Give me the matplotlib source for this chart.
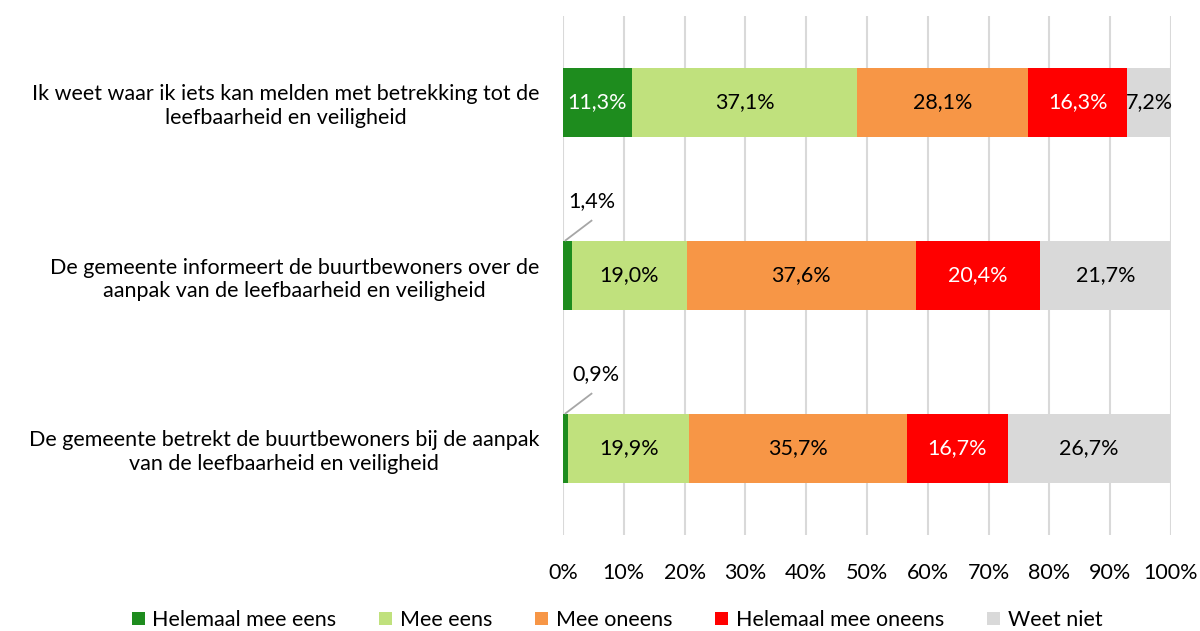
import numpy as np
import matplotlib.pyplot as plt

plt.rcParams['font.family'] = ['Lato', 'DejaVu Sans']

# data
statements = [
    "Ik weet waar ik iets kan melden met betrekking tot de\nleefbaarheid en veiligheid",
    "De gemeente informeert de buurtbewoners over de\naanpak van de leefbaarheid en veiligheid",
    "De gemeente betrekt de buurtbewoners bij de aanpak\nvan de leefbaarheid en veiligheid",
]
series = ["Helemaal mee eens", "Mee eens", "Mee oneens", "Helemaal mee oneens", "Weet niet"]
helemaal_eens = [11.3, 1.4, 0.9]
mee_eens = [37.1, 19.0, 19.9]
mee_oneens = [28.1, 37.6, 35.7]
helemaal_oneens = [16.3, 20.4, 16.7]
weet_niet = [7.2, 21.7, 26.7]

colors = ["#1E8C1E", "#C0E17D", "#F79646", "#FF0000", "#D9D9D9"]
text_colors = ["white", "black", "black", "white", "black"]

values = [helemaal_eens, mee_eens, mee_oneens, helemaal_oneens, weet_niet]
fs = 15.5

fig = plt.figure(figsize=(12, 6.31), dpi=100)
ax = fig.add_axes([563 / 1200, 1 - 535 / 631, 608 / 1200, 519 / 631])

y = np.arange(len(statements))
left = np.zeros(len(statements))
for vals, name, col, tc in zip(values, series, colors, text_colors):
    vals = np.array(vals)
    ax.barh(y, vals, left=left, height=0.4, color=col, label=name, zorder=3)
    for yi, l, v in zip(y, left, vals):
        lab = f"{v:.1f}%".replace(".", ",")
        if v < 5:
            # small segments get a callout above the bar
            ax.plot([l + 0.3, l + 4.8], [yi - 0.2, yi - 0.32], color='#A6A6A6', lw=1.3,
                    zorder=4, solid_capstyle='butt')
            ax.text(l + (1.6 if v < 1 else 0.8), yi - 0.43, lab,
                    ha='left', va='center', fontsize=fs, zorder=4)
        else:
            ax.text(l + v / 2, yi, lab, ha='center', va='center',
                    color=tc, fontsize=fs, zorder=4)
    left += vals

ax.set_xlim(0, 100)
ax.set_ylim(2.5, -0.5)
ax.set_xticks(np.arange(0, 101, 10))
ax.set_xticklabels([f"{t}%" for t in range(0, 101, 10)], fontsize=fs)
ax.set_yticks(y)
ax.set_yticklabels(statements, fontsize=fs, multialignment='center')
ax.tick_params(axis='both', length=0)
ax.tick_params(axis='x', pad=20)
ax.tick_params(axis='y', pad=17)
ax.grid(axis='x', color='#D9D9D9', lw=1.5, zorder=0)
for s in ax.spines.values():
    s.set_visible(False)

fig.legend(*ax.get_legend_handles_labels(), loc='center',
           bbox_to_anchor=(617 / 1200, 1 - 620 / 631),
           ncol=5, frameon=False, fontsize=fs, handlelength=0.6, handleheight=0.6,
           columnspacing=2.0, handletextpad=0.35)

fig.savefig("out.png", dpi=100)
